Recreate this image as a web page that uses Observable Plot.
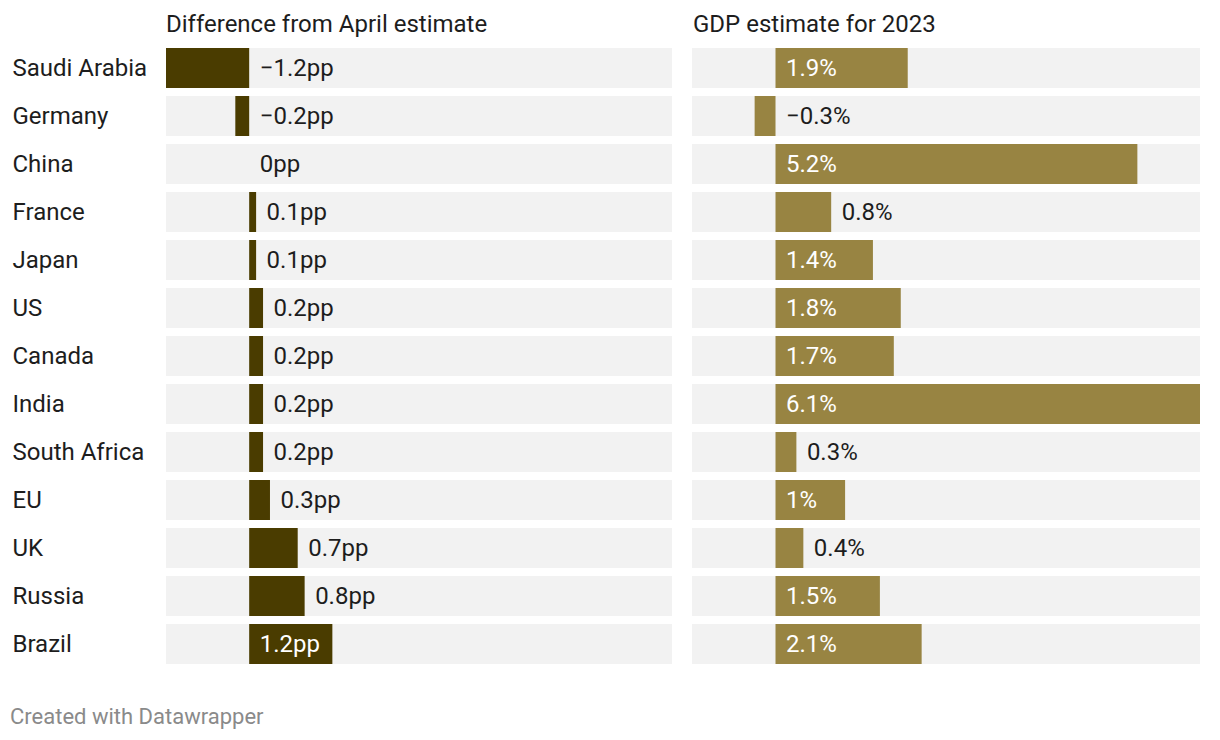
<!DOCTYPE html>
<html>
<head>
<meta charset="utf-8">
<script src="https://cdn.jsdelivr.net/npm/d3@7"></script>
<script src="https://cdn.jsdelivr.net/npm/@observablehq/plot@0.6"></script>
<style>
  html, body { margin: 0; padding: 0; background: #fff; }
  body { width: 1220px; height: 740px; position: relative; font-family: Roboto, "Noto Sans", sans-serif; overflow: hidden; }
  .hdr { position: absolute; top: 12px; font-size: 24px; line-height: 24px; color: #1d1d1d; white-space: nowrap; }
  .cap { position: absolute; left: 10px; top: 706px; font-size: 22px; line-height: 22px; color: #8a8a8a; white-space: nowrap; }
  #left { position: absolute; left: 0; top: 0; }
  #right { position: absolute; left: 692px; top: 0; }
</style>
</head>
<body>
<div class="hdr" style="left:166px">Difference from April estimate</div>
<div class="hdr" style="left:693px">GDP estimate for 2023</div>
<div id="left"></div>
<div id="right"></div>
<div class="cap">Created with Datawrapper</div>
<script>
const countries = ["Saudi Arabia","Germany","China","France","Japan","US","Canada","India","South Africa","EU","UK","Russia","Brazil"];
const diffApril = [-1.2,-0.2,0,0.1,0.1,0.2,0.2,0.2,0.2,0.3,0.7,0.8,1.2];
const gdp2023 = [1.9,-0.3,5.2,0.8,1.4,1.8,1.7,6.1,0.3,1,0.4,1.5,2.1];

const all = diffApril.concat(gdp2023);
const xDomain = [d3.min(all), d3.max(all)];

const FS = 24;
const ctx = document.createElement("canvas").getContext("2d");
ctx.font = FS + "px Roboto";
const textW = s => ctx.measureText(s).width;

const fmt = (v, unit) => String(v).replace("-", "\u2212") + unit;

function panel(values, unit, color, opts) {
  const {width, marginLeft, showNames} = opts;
  const pxPerUnit = (width - marginLeft) / (xDomain[1] - xDomain[0]);
  const data = countries.map((c, i) => {
    const v = values[i];
    const label = fmt(v, unit);
    const inside = v > 0 && textW(label) + 20 <= v * pxPerUnit;
    return {country: c, value: v, label, inside,
      lx: (v <= 0 || inside) ? 0 : v,
      lfill: inside ? "#ffffff" : "#1d1d1d",
      lo: xDomain[0], hi: xDomain[1]};
  });
  const marks = [
    Plot.barX(data, {y: "country", x1: "lo", x2: "hi", fill: "#f2f2f2", insetTop: 4, insetBottom: 4}),
    Plot.barX(data, {y: "country", x1: 0, x2: "value", fill: color, insetTop: 4, insetBottom: 4}),
    Plot.text(data, {y: "country", x: "lx", text: "label", fill: "lfill", textAnchor: "start", dx: 10, fontSize: FS})
  ];
  if (showNames) marks.push(Plot.axisY({tickSize: 0, tickPadding: 154, textAnchor: "start", fontSize: FS, label: null, color: "#1d1d1d"}));
  return Plot.plot({
    width, height: 672,
    marginTop: 44, marginBottom: 4, marginLeft, marginRight: 0,
    style: {fontFamily: "Roboto, sans-serif", fontSize: FS + "px", color: "#1d1d1d", background: "transparent"},
    x: {domain: xDomain, axis: null},
    y: {domain: countries, padding: 0, axis: null},
    marks
  });
}

document.getElementById("left").append(panel(diffApril, "pp", "#4a3c00", {width: 672, marginLeft: 166, showNames: true}));
document.getElementById("right").append(panel(gdp2023, "%", "#988442", {width: 508, marginLeft: 0, showNames: false}));
</script>
</body>
</html>
